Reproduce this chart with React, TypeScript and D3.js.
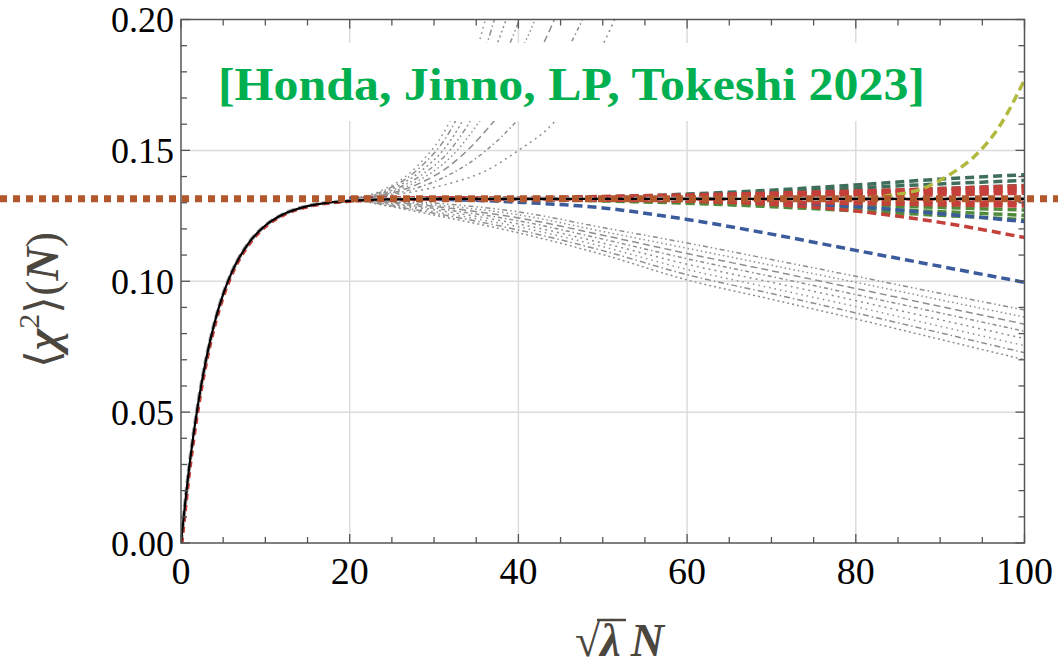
import * as d3 from 'd3';
import React from 'react';

const WIDTH = 1058;
const HEIGHT = 665;
const PLOT = { left: 181, right: 1024.5, top: 19.5, bottom: 543 };

// x ticks / y ticks
const xTicks = [0, 20, 40, 60, 80, 100];
const yTicks = [0, 0.05, 0.1, 0.15, 0.2];
const yTickLabels = ['0.00', '0.05', '0.10', '0.15', '0.20'];

const plateau = 0.1315;

// main curve (black solid), rise then plateau
const mainN = [0, 1, 2, 3, 4, 5, 6, 8, 10, 12, 15, 18, 20, 25, 30, 40, 60, 80, 100];
const mainV = [0, 0.0297, 0.0527, 0.0706, 0.0844, 0.0951, 0.1033, 0.1145, 0.1213, 0.1254, 0.1287, 0.1302, 0.1307, 0.1313, 0.1315, 0.1315, 0.1315, 0.1315, 0.1315];

// gray fan going up
const upperN = [20, 24, 28, 32, 36, 40, 44, 48, 52];
const upperFan = [
  [0.1315, 0.135, 0.144, 0.162, 0.199, 0.26],
  [0.1315, 0.1345, 0.1425, 0.158, 0.188, 0.235],
  [0.1315, 0.134, 0.141, 0.154, 0.179, 0.215, 0.27],
  [0.1315, 0.1336, 0.1395, 0.1505, 0.171, 0.199, 0.24],
  [0.1315, 0.1333, 0.1382, 0.1475, 0.164, 0.186, 0.218, 0.27],
  [0.1315, 0.133, 0.137, 0.1445, 0.157, 0.174, 0.198, 0.233],
  [0.1315, 0.1327, 0.1357, 0.141, 0.1495, 0.162, 0.179, 0.203, 0.24],
  [0.1315, 0.1325, 0.1345, 0.1375, 0.142, 0.15, 0.16, 0.178, 0.204],
];

// gray fan going down
const lowerN = [20, 30, 40, 50, 60, 70, 80, 90, 100];
const lowerFan = [
  [0.1315, 0.1299, 0.1265, 0.1205, 0.1146, 0.1083, 0.1019, 0.0954, 0.089],
  [0.1315, 0.1292, 0.1254, 0.119, 0.1126, 0.1061, 0.0996, 0.0929, 0.0863],
  [0.1315, 0.1286, 0.1242, 0.1176, 0.1106, 0.104, 0.0972, 0.0904, 0.0836],
  [0.1315, 0.1279, 0.1231, 0.1161, 0.1086, 0.1018, 0.0949, 0.0879, 0.0809],
  [0.1315, 0.1273, 0.1219, 0.1146, 0.1065, 0.0996, 0.0926, 0.0853, 0.0781],
  [0.1315, 0.1266, 0.1208, 0.1132, 0.1045, 0.0974, 0.0903, 0.0828, 0.0754],
  [0.1315, 0.126, 0.1196, 0.1117, 0.1025, 0.0953, 0.0879, 0.0803, 0.0727],
  [0.1315, 0.1253, 0.1185, 0.1102, 0.1005, 0.0931, 0.0856, 0.0778, 0.07],
];
const grayDashes = ['1.5,4', '6,3,1.5,3', '2,3', '5,3,1.5,3,1.5,3', '1.5,3', '7,4', '4,3,1.5,3', '2,4'];

// coloured dashed curves, same grid as lowerN
const blueLow = [0.1315, 0.1313, 0.1302, 0.128, 0.1236, 0.118, 0.1118, 0.1057, 0.0996];
const blueHigh = [0.1315, 0.1315, 0.1315, 0.1314, 0.131, 0.13, 0.1285, 0.1258, 0.1228];
const redLow = [0.1315, 0.1315, 0.1315, 0.1313, 0.1306, 0.1294, 0.1268, 0.1225, 0.1167];
const darkGreens = [
  [0.1315, 0.1315, 0.1316, 0.1322, 0.1333, 0.1348, 0.1368, 0.139, 0.1407],
  [0.1315, 0.1315, 0.1316, 0.132, 0.1328, 0.134, 0.1356, 0.1372, 0.1385],
  [0.1315, 0.1315, 0.1315, 0.1318, 0.1323, 0.1331, 0.1342, 0.1354, 0.1366],
];
const redBand = [
  [0.1315, 0.1315, 0.1317, 0.1322, 0.1328, 0.1335, 0.1343, 0.1352, 0.1363],
  [0.1315, 0.1315, 0.1316, 0.132, 0.1325, 0.1331, 0.1338, 0.1346, 0.1355],
  [0.1315, 0.1315, 0.1316, 0.1318, 0.1322, 0.1327, 0.1333, 0.134, 0.1347],
  [0.1315, 0.1315, 0.1315, 0.1317, 0.132, 0.1323, 0.1327, 0.1332, 0.1338],
  [0.1315, 0.1315, 0.1315, 0.1313, 0.1311, 0.1309, 0.1306, 0.1303, 0.13],
  [0.1315, 0.1315, 0.1314, 0.1312, 0.1308, 0.1304, 0.1299, 0.1294, 0.1289],
];
const lightGreens = [
  [0.1315, 0.1315, 0.1314, 0.1311, 0.1306, 0.1299, 0.1291, 0.1282, 0.1272],
  [0.1315, 0.1315, 0.1313, 0.1309, 0.1302, 0.1292, 0.128, 0.1266, 0.1252],
  [0.1315, 0.1315, 0.1313, 0.1307, 0.1298, 0.1285, 0.1269, 0.1252, 0.1235],
];
const yellowN = [70, 80, 85, 88, 91, 94, 97, 100];
const yellowV = [0.1315, 0.1318, 0.1332, 0.1355, 0.1405, 0.1475, 0.159, 0.177];

const SERIF = '"Liberation Serif", "Times New Roman", serif';

export default function App() {
  const x = d3.scaleLinear().domain([0, 100]).range([PLOT.left, PLOT.right]);
  const y = d3.scaleLinear().domain([0, 0.2]).range([PLOT.bottom, PLOT.top]);

  const line = (ns: number[], vs: number[]) =>
    d3
      .line<number>()
      .x((_, i) => x(ns[i]))
      .y(v => y(v))
      .curve(d3.curveMonotoneX)(vs) ?? '';

  const xMinor = d3.range(0, 101, 5);
  const yMinor = d3.range(0, 0.2001, 0.01);

  const dash = '9,5';

  return (
    <svg width={WIDTH} height={HEIGHT} style={{ position: 'absolute', left: 0, top: 0, background: '#fff' }}>
      <defs>
        <clipPath id="plot">
          <rect x={PLOT.left} y={PLOT.top} width={PLOT.right - PLOT.left} height={PLOT.bottom - PLOT.top} />
        </clipPath>
      </defs>

      {/* grid */}
      {xTicks.slice(1, -1).map(t => (
        <line key={'gx' + t} x1={x(t)} x2={x(t)} y1={PLOT.top} y2={PLOT.bottom} stroke="#dcdcdc" strokeWidth={1.5} />
      ))}
      {yTicks.slice(1, -1).map(t => (
        <line key={'gy' + t} x1={PLOT.left} x2={PLOT.right} y1={y(t)} y2={y(t)} stroke="#dcdcdc" strokeWidth={1.5} />
      ))}

      <g clipPath="url(#plot)" fill="none">
        {upperFan.map((vs, i) => (
          <path key={'u' + i} d={line(upperN, vs)} stroke="#8e8e8e" strokeWidth={1.5} strokeDasharray={grayDashes[i]} />
        ))}
        {lowerFan.map((vs, i) => (
          <path key={'l' + i} d={line(lowerN, vs)} stroke="#8e8e8e" strokeWidth={1.5} strokeDasharray={grayDashes[(i + 3) % grayDashes.length]} />
        ))}

        {darkGreens.map((vs, i) => (
          <path key={'dg' + i} d={line(lowerN, vs)} stroke="#3f6e5a" strokeWidth={3.5} strokeDasharray={dash} />
        ))}
        {lightGreens.map((vs, i) => (
          <path key={'lg' + i} d={line(lowerN, vs)} stroke="#4f8b3b" strokeWidth={3.5} strokeDasharray={dash} />
        ))}
        <path d={line(lowerN, blueHigh)} stroke="#3b5b9c" strokeWidth={3.5} strokeDasharray={dash} />
        {redBand.map((vs, i) => (
          <path key={'rb' + i} d={line(lowerN, vs)} stroke="#c5403a" strokeWidth={4.5} strokeDasharray={dash} />
        ))}
        <path d={line(lowerN, redLow)} stroke="#c5403a" strokeWidth={3.5} strokeDasharray={dash} />
        <path d={line(lowerN, blueLow)} stroke="#3b5b9c" strokeWidth={3.5} strokeDasharray={dash} />
        <path d={line(yellowN, yellowV)} stroke="#b3b93f" strokeWidth={3.5} strokeDasharray={dash} />

        {/* main curve */}
        <path d={line(mainN, mainV)} stroke="#a8a8a8" strokeWidth={4} strokeDasharray="8,4" />
        <path d={line(mainN, mainV)} stroke="#c5403a" strokeWidth={2} strokeDasharray="6,5" transform="translate(1.5,1)" />
        <path d={line(mainN, mainV)} stroke="#000" strokeWidth={2.2} />
      </g>

      {/* horizontal reference (dotted) */}
      <line x1={0} x2={WIDTH} y1={y(plateau)} y2={y(plateau)} stroke="#b3572c" strokeWidth={7} strokeDasharray="7,6" />

      {/* title box */}
      <rect x={205} y={43} width={735} height={78} fill="#fff" />
      <text
        x={218}
        y={100}
        fontFamily={SERIF}
        fontWeight="bold"
        fontSize={46}
        fill="#00b050"
        textLength={707}
        lengthAdjust="spacingAndGlyphs"
      >
        [Honda, Jinno, LP, Tokeshi 2023]
      </text>

      {/* frame */}
      <rect x={PLOT.left} y={PLOT.top} width={PLOT.right - PLOT.left} height={PLOT.bottom - PLOT.top} fill="none" stroke="#555" strokeWidth={1.5} />
      {xMinor.map(t => {
        const len = t % 20 === 0 ? 9 : 6;
        return (
          <g key={'xt' + t} stroke="#555" strokeWidth={1.3}>
            <line x1={x(t)} x2={x(t)} y1={PLOT.bottom} y2={PLOT.bottom - len} />
            <line x1={x(t)} x2={x(t)} y1={PLOT.top} y2={PLOT.top + len} />
          </g>
        );
      })}
      {yMinor.map((t, i) => {
        const len = i % 5 === 0 ? 9 : 6;
        return (
          <g key={'yt' + i} stroke="#555" strokeWidth={1.3}>
            <line x1={PLOT.left} x2={PLOT.left + len} y1={y(t)} y2={y(t)} />
            <line x1={PLOT.right} x2={PLOT.right - len} y1={y(t)} y2={y(t)} />
          </g>
        );
      })}

      {/* tick labels */}
      {xTicks.map(t => (
        <text key={'xl' + t} x={x(t)} y={584} textAnchor="middle" fontFamily={SERIF} fontSize={38} fill="#000">
          {t}
        </text>
      ))}
      {yTicks.map((t, i) => (
        <text key={'yl' + t} x={174} y={y(t) + 12.5} textAnchor="end" fontFamily={SERIF} fontSize={36} fill="#000">
          {yTickLabels[i]}
        </text>
      ))}

      {/* axis titles */}
      <text
        transform="translate(58,300) rotate(-90)"
        textAnchor="middle"
        fontFamily={SERIF}
        fontSize={46}
        fill="#4b463e"
      >
        ⟨<tspan fontWeight="bold" fontStyle="italic">χ</tspan>
        <tspan fontSize={30} dy={-19}>2</tspan>
        <tspan dy={19}>⟩(</tspan>
        <tspan fontWeight="bold" fontStyle="italic">N</tspan>)
      </text>
      <text x={575} y={656} fontFamily={SERIF} fontSize={46} fill="#4b463e">
        √<tspan fontWeight="bold" fontStyle="italic">λ</tspan>
        <tspan dx={10} fontWeight="bold" fontStyle="italic">N</tspan>
      </text>
      <line x1={597} x2={626} y1={620} y2={620} stroke="#4b463e" strokeWidth={2.5} />
    </svg>
  );
}
